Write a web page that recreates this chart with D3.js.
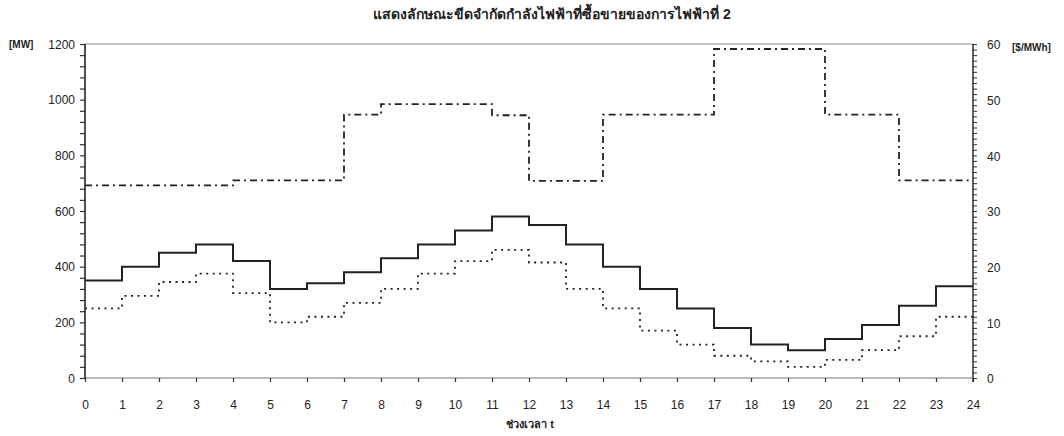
<!DOCTYPE html>
<html>
<head>
<meta charset="utf-8">
<script src="https://cdn.jsdelivr.net/npm/d3@7"></script>
<style>
  body { margin: 0; background: #fff; }
  text { font-family: "Liberation Sans", Arial, sans-serif; fill: #222; }
</style>
</head>
<body>
<svg id="chart"></svg>
<script>
// hourly periods 0..23 (each step lasts one hour)
const hours = d3.range(0, 24);

// power limit [MW], solid line
const powerUpper = [350, 400, 450, 480, 420, 320, 340, 380, 430, 480, 530, 580,
                    550, 480, 400, 320, 250, 180, 120, 100, 140, 190, 260, 330];
// power limit [MW], dotted line
const powerLower = [250, 295, 345, 375, 305, 200, 220, 270, 320, 375, 420, 460,
                    415, 320, 250, 170, 120, 80, 60, 40, 65, 100, 150, 220];
// price [$/MWh], dash-dot line on right axis
const price = [34.6, 34.6, 34.6, 34.6, 35.5, 35.5, 35.5, 47.3, 49.2, 49.2, 49.2, 47.2,
               35.4, 35.4, 47.3, 47.3, 47.3, 59.1, 59.1, 59.1, 47.3, 47.3, 35.5, 35.5];

const xTicks = d3.range(0, 25);
const titleText = "แสดงลักษณะขีดจำกัดกำลังไฟฟ้าที่ซื้อขายของการไฟฟ้าที่ 2";
const xTitle = "ช่วงเวลา t";

const width = 1064, height = 436;
const plotLeft = 85, plotRight = 973, plotTop = 44, plotBottom = 378;

const svg = d3.select("#chart")
  .attr("width", width)
  .attr("height", height);

const x = d3.scaleLinear().domain([0, 24]).range([plotLeft, plotRight]);
const yMW = d3.scaleLinear().domain([0, 1200]).range([plotBottom, plotTop]);
const yPrice = d3.scaleLinear().domain([0, 60]).range([plotBottom, plotTop]);

// top and bottom frame lines (thin, grey)
svg.append("line")
  .attr("x1", plotLeft).attr("x2", plotRight).attr("y1", plotTop).attr("y2", plotTop)
  .attr("stroke", "#888").attr("stroke-width", 1);
svg.append("line")
  .attr("x1", plotLeft).attr("x2", plotRight).attr("y1", plotBottom).attr("y2", plotBottom)
  .attr("stroke", "#777").attr("stroke-width", 1.2);

// left axis
const leftAxis = svg.append("g")
  .attr("transform", `translate(${plotLeft},0)`)
  .call(d3.axisLeft(yMW)
    .tickValues(d3.range(0, 1201, 40))
    .tickSize(5)
    .tickPadding(5)
    .tickFormat(d => d % 200 === 0 ? d : ""));
leftAxis.select(".domain").remove();
leftAxis.selectAll(".tick line").attr("stroke", "#333").attr("stroke-width", 1.2);
leftAxis.selectAll(".tick text").style("font-size", "12px").attr("dy", "0.35em");
svg.append("line")
  .attr("x1", plotLeft).attr("x2", plotLeft).attr("y1", plotTop).attr("y2", plotBottom)
  .attr("stroke", "#222").attr("stroke-width", 1.6);

// right axis
const rightAxis = svg.append("g")
  .attr("transform", `translate(${plotRight},0)`)
  .call(d3.axisRight(yPrice)
    .tickValues(d3.range(0, 61, 1))
    .tickSize(4)
    .tickPadding(10)
    .tickFormat(d => d % 10 === 0 ? d : ""));
rightAxis.select(".domain").remove();
rightAxis.selectAll(".tick line").attr("stroke", "#333").attr("stroke-width", 1);
rightAxis.selectAll(".tick text").style("font-size", "12px").attr("dy", "0.4em");
svg.append("line")
  .attr("x1", plotRight).attr("x2", plotRight).attr("y1", plotTop).attr("y2", plotBottom + 4)
  .attr("stroke", "#222").attr("stroke-width", 1.4);

// bottom axis
const bottomAxis = svg.append("g")
  .attr("transform", `translate(0,${plotBottom})`)
  .call(d3.axisBottom(x)
    .tickValues(xTicks)
    .tickSize(4)
    .tickPadding(18)
    .tickFormat(d3.format("d")));
bottomAxis.select(".domain").remove();
bottomAxis.selectAll(".tick line").attr("stroke", "#333").attr("stroke-width", 1.2);
bottomAxis.selectAll(".tick text").style("font-size", "12px");

// step lines
function steps(values) {
  const pts = hours.map((h, i) => [h, values[i]]);
  pts.push([24, values[values.length - 1]]);
  return pts;
}

const lineMW = d3.line()
  .x(d => x(d[0]))
  .y(d => yMW(d[1]))
  .curve(d3.curveStepAfter);

const linePrice = d3.line()
  .x(d => x(d[0]))
  .y(d => yPrice(d[1]))
  .curve(d3.curveStepAfter);

svg.append("path")
  .datum(steps(price))
  .attr("d", linePrice)
  .attr("fill", "none")
  .attr("stroke", "#222")
  .attr("stroke-width", 1.8)
  .attr("stroke-dasharray", "7,4,2,4");

svg.append("path")
  .datum(steps(powerLower))
  .attr("d", lineMW)
  .attr("fill", "none")
  .attr("stroke", "#222")
  .attr("stroke-width", 1.8)
  .attr("stroke-dasharray", "2,4.5");

svg.append("path")
  .datum(steps(powerUpper))
  .attr("d", lineMW)
  .attr("fill", "none")
  .attr("stroke", "#222")
  .attr("stroke-width", 2);

// title and unit labels
svg.append("text")
  .attr("x", 552).attr("y", 19)
  .attr("text-anchor", "middle")
  .style("font-size", "14px")
  .style("font-weight", "bold")
  .text(titleText);

svg.append("text")
  .attr("x", 530).attr("y", 428)
  .attr("text-anchor", "middle")
  .style("font-size", "11px")
  .style("font-weight", "bold")
  .text(xTitle);

svg.append("text")
  .attr("x", 9).attr("y", 48)
  .style("font-size", "10px")
  .style("font-weight", "bold")
  .text("[MW]");

svg.append("text")
  .attr("x", 1012).attr("y", 51)
  .style("font-size", "10px")
  .style("font-weight", "bold")
  .text("[$/MWh]");
</script>
</body>
</html>
